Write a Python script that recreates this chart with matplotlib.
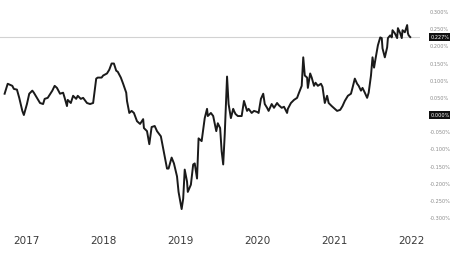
import numpy as np
import matplotlib
matplotlib.use("Agg")
from matplotlib import pyplot as plt

# spread series (decimal year, percent)
dates = [
    2016.72, 2016.76, 2016.82, 2016.84, 2016.88, 2016.91, 2016.95, 2016.97,
    2017.01, 2017.04, 2017.08, 2017.10, 2017.14, 2017.18, 2017.22, 2017.24,
    2017.28, 2017.34, 2017.37, 2017.40, 2017.44, 2017.48, 2017.50, 2017.53,
    2017.54, 2017.58, 2017.61, 2017.65, 2017.67, 2017.71, 2017.74, 2017.79,
    2017.83, 2017.87, 2017.91, 2017.93, 2017.98, 2018.00, 2018.05, 2018.08,
    2018.11, 2018.14, 2018.17, 2018.19, 2018.23, 2018.26, 2018.30, 2018.31,
    2018.34, 2018.37, 2018.40, 2018.44, 2018.48, 2018.52, 2018.53, 2018.57,
    2018.60, 2018.63, 2018.67, 2018.70, 2018.75, 2018.78, 2018.83, 2018.85,
    2018.89, 2018.92, 2018.96, 2018.98, 2019.02, 2019.04, 2019.06, 2019.09,
    2019.10, 2019.14, 2019.17, 2019.19, 2019.22, 2019.24, 2019.28, 2019.32,
    2019.35, 2019.36, 2019.40, 2019.43, 2019.47, 2019.49, 2019.52, 2019.54,
    2019.56, 2019.58, 2019.61, 2019.63, 2019.66, 2019.69, 2019.70, 2019.72,
    2019.75, 2019.80, 2019.83, 2019.87, 2019.89, 2019.93, 2019.96, 2020.00,
    2020.02, 2020.05, 2020.08, 2020.10, 2020.13, 2020.15, 2020.19, 2020.22,
    2020.26, 2020.28, 2020.32, 2020.35, 2020.39, 2020.40, 2020.44, 2020.48,
    2020.52, 2020.54, 2020.58, 2020.60, 2020.62, 2020.65, 2020.66, 2020.69,
    2020.71, 2020.74, 2020.76, 2020.79, 2020.83, 2020.85, 2020.88, 2020.91,
    2020.93, 2020.97, 2021.01, 2021.04, 2021.08, 2021.11, 2021.14, 2021.18,
    2021.22, 2021.24, 2021.27, 2021.30, 2021.32, 2021.35, 2021.37, 2021.40,
    2021.43, 2021.45, 2021.48, 2021.50, 2021.52, 2021.54, 2021.57, 2021.60,
    2021.62, 2021.63, 2021.66, 2021.69, 2021.70, 2021.73, 2021.75, 2021.76,
    2021.79, 2021.82, 2021.83, 2021.86, 2021.88, 2021.89, 2021.92, 2021.95,
    2021.96, 2021.97, 2021.99,
]
spread = [
    0.062, 0.091, 0.085, 0.076, 0.074, 0.050, 0.012, 0.000,
    0.032, 0.062, 0.071, 0.065, 0.050, 0.035, 0.032, 0.047,
    0.050, 0.071, 0.085, 0.079, 0.062, 0.065, 0.050, 0.026,
    0.044, 0.035, 0.056, 0.047, 0.056, 0.047, 0.050, 0.035,
    0.032, 0.035, 0.106, 0.109, 0.109, 0.115, 0.121, 0.132,
    0.150, 0.150, 0.129, 0.126, 0.109, 0.091, 0.065, 0.041,
    0.006, 0.012, 0.006, -0.018, -0.026, -0.012, -0.038, -0.047,
    -0.085, -0.035, -0.032, -0.047, -0.062, -0.097, -0.156, -0.156,
    -0.124, -0.141, -0.179, -0.224, -0.274, -0.244, -0.159, -0.194,
    -0.224, -0.203, -0.144, -0.141, -0.185, -0.068, -0.076, -0.009,
    0.018, -0.003, 0.006, -0.003, -0.047, -0.024, -0.038, -0.106,
    -0.144, -0.056, 0.112, 0.032, -0.009, 0.018, 0.012, 0.003,
    -0.003, -0.003, 0.041, 0.012, 0.018, 0.006, 0.012, 0.009,
    0.006, 0.047, 0.062, 0.032, 0.021, 0.012, 0.032, 0.021,
    0.035, 0.029, 0.021, 0.024, 0.006, 0.018, 0.035, 0.044,
    0.050, 0.062, 0.085, 0.168, 0.115, 0.109, 0.079, 0.121,
    0.109, 0.085, 0.094, 0.085, 0.091, 0.082, 0.035, 0.056,
    0.035, 0.026, 0.018, 0.012, 0.015, 0.026, 0.041, 0.056,
    0.062, 0.079, 0.106, 0.091, 0.085, 0.071, 0.079, 0.065,
    0.050, 0.065, 0.115, 0.168, 0.138, 0.165, 0.203, 0.226,
    0.224, 0.194, 0.168, 0.197, 0.224, 0.232, 0.226, 0.247,
    0.238, 0.224, 0.253, 0.238, 0.224, 0.247, 0.241, 0.262,
    0.238, 0.232, 0.227,
]
year_ticks = [2017, 2018, 2019, 2020, 2021, 2022]
y_ticks = [0.30, 0.25, 0.20, 0.15, 0.10, 0.05, 0.0, -0.05, -0.10, -0.15, -0.20, -0.25, -0.30]
last_value = spread[-1]

fig = plt.figure(figsize=(4.5, 2.57), dpi=100)
ax = fig.add_axes([0.0, 0.125, 0.933, 0.875])

ax.plot(dates, spread, color="#1a1a1a", lw=1.4, solid_joinstyle="round")
ax.axhline(last_value, color="#d2d2d2", lw=0.8, zorder=0)

ax.set_xlim(2016.66, 2022.115)
ax.set_ylim(-0.320, 0.335)

for s in ax.spines.values():
    s.set_visible(False)

ax.set_xticks(year_ticks)
ax.set_xticklabels([str(y) for y in year_ticks], fontsize=7.5, color="#3a3a3a")
ax.tick_params(axis="x", length=0, pad=8)

ax.yaxis.tick_right()
ax.set_yticks(y_ticks)
ax.set_yticklabels(["" if v == 0 else f"{v:.3f}%" for v in y_ticks],
                   fontsize=3.6, color="#8a8a8a")
ax.tick_params(axis="y", length=0, pad=7)

# boxed labels on the price scale
box = dict(boxstyle="square,pad=0.25", fc="#111111", ec="none")
ax.text(1.025, 0.0, "0.000%", transform=ax.get_yaxis_transform(), fontsize=3.6,
        color="white", va="center", ha="left", bbox=box, clip_on=False)
ax.text(1.025, last_value, f"{last_value:.3f}%", transform=ax.get_yaxis_transform(),
        fontsize=3.6, color="white", va="center", ha="left", bbox=box, clip_on=False)

fig.savefig("out.png", dpi=100)
